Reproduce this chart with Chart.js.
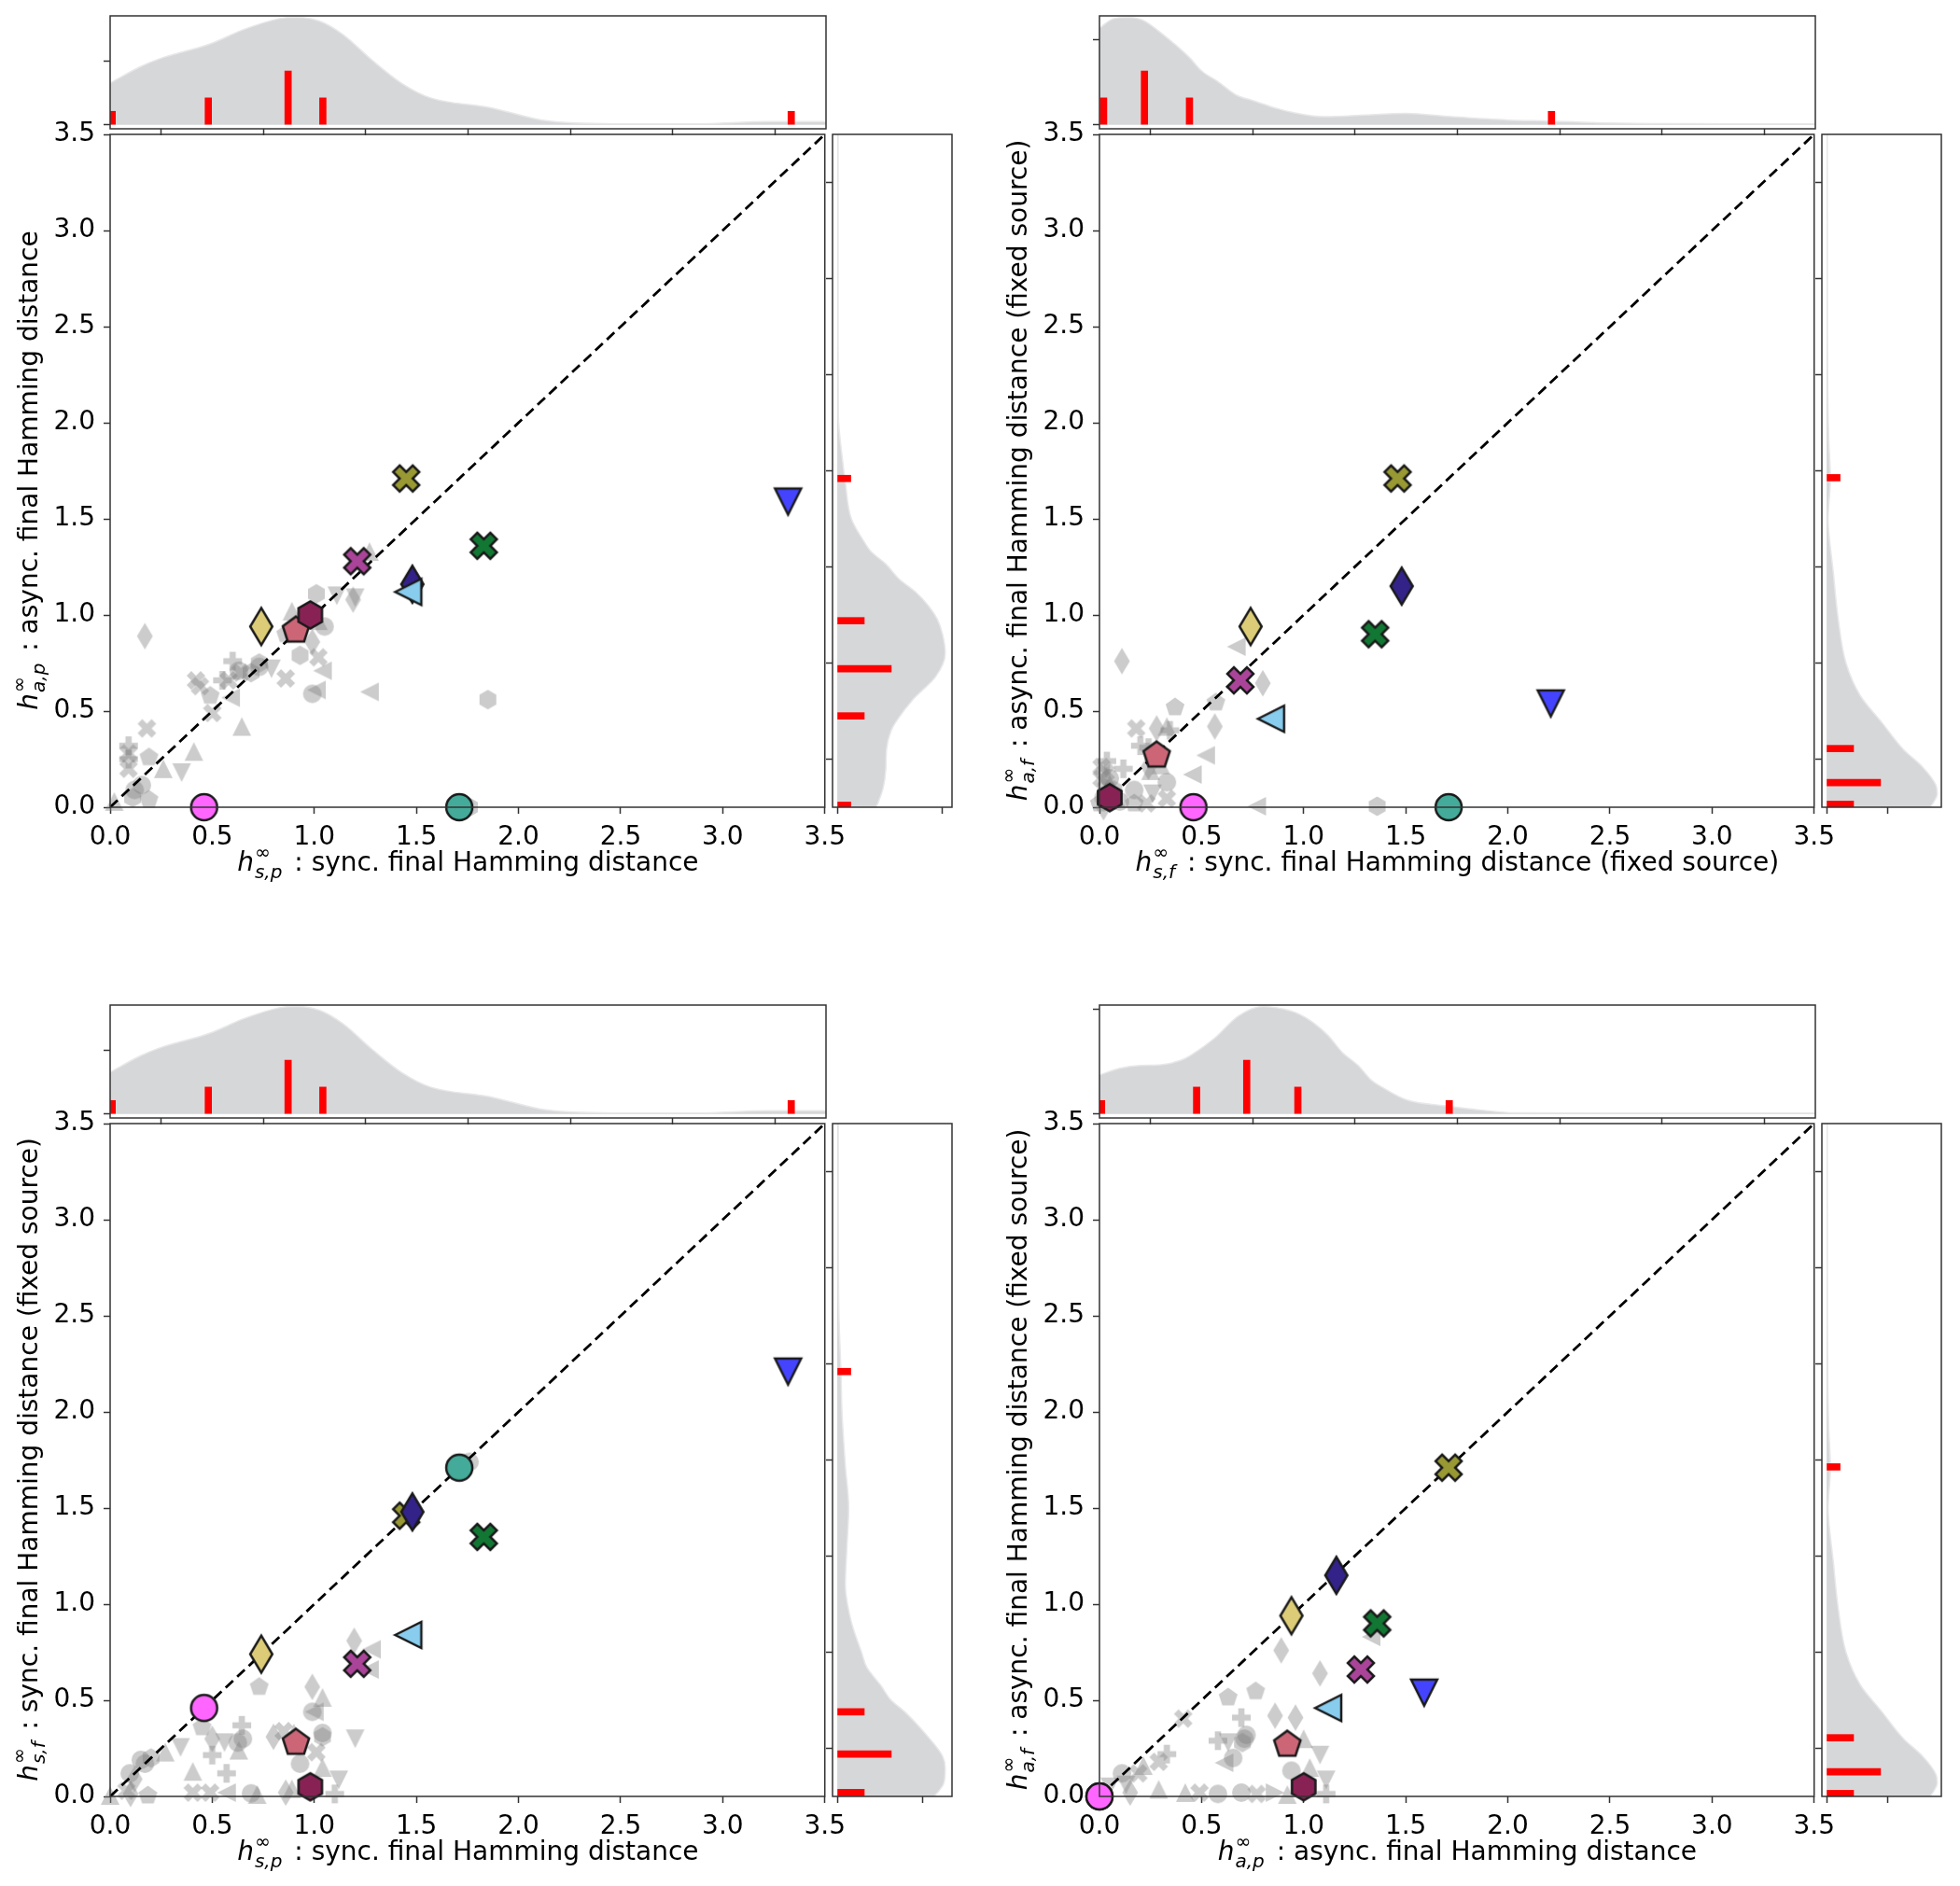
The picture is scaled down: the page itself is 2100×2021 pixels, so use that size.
<!DOCTYPE html>
<html>
<head>
<meta charset="utf-8">
<script src="https://cdn.jsdelivr.net/npm/chart.js@4.4.1/dist/chart.umd.min.js"></script>
<style>
  body { margin: 0; background: #fff; }
  #fig { position: relative; width: 2100px; height: 2021px; background: #fff; }
</style>
</head>
<body>
<div id="fig"></div>
<script>
// highlighted networks (drawing order), marker + colour
const hiMarkers = ['o', 'X', 'X', 'v', 'd', 'p', 'h', 'X', 'd', '<', 'o'];
const hiColors = ['#44aa99', '#999933', '#117733', '#4444ff', '#ddcc77', '#cc6677', '#882255', '#aa4499', '#332288', '#88ccee', '#ff66ff'];
const hSP = [1.71, 1.45, 1.83, 3.32, 0.74, 0.91, 0.98, 1.21, 1.48, 1.46, 0.46];
const hAP = [0.0, 1.71, 1.36, 1.59, 0.94, 0.92, 1.0, 1.28, 1.16, 1.12, 0.0];
const hSF = [1.71, 1.46, 1.35, 2.21, 0.74, 0.28, 0.05, 0.69, 1.48, 0.84, 0.46];
const hAF = [0.0, 1.71, 0.90, 0.54, 0.94, 0.27, 0.05, 0.66, 1.15, 0.46, 0.0];

// grey background networks, per panel
const p1gx = [0.17,0.18,0.09,0.09,0.09,0.09,0.19,0.26,0.35,0.41,0.155,0.11,0.19,0.12,0.02,0.42,0.44,0.49,0.50,0.645,0.58,0.60,0.63,0.69,0.73,0.79,0.59,0.86,0.93,0.99,1.02,1.04,0.99,1.01,1.27,1.85,0.89,1.05,1.01,1.11,1.19,1.20,1.27,0.86,1.76,1.48,1.02,0.55,0.64,0.73];
const p1gy = [0.89,0.41,0.32,0.28,0.25,0.20,0.26,0.20,0.18,0.29,0.115,0.05,0.04,0.09,0.03,0.66,0.63,0.58,0.49,0.42,0.66,0.76,0.71,0.70,0.75,0.72,0.57,0.67,0.79,0.86,0.78,0.71,0.59,0.61,0.60,0.56,1.02,0.94,1.11,1.10,1.08,1.09,1.33,0.90,0.0,1.15,0.97,0.66,0.70,0.73];
const p1gm = 'd X P X P X p ^ v ^ o h p o ^ X X p X ^ X P o h h v < X h d X < o < < h ^ o h v d v ^ p h d ^ P X o'.split(' ');

const p2gx = [0.11,0.67,0.80,0.37,0.57,0.565,0.18,0.33,0.345,0.52,0.455,0.33,0.20,0.117,0.036,0.01,0.25,0.24,0.30,0.17,0.26,0.23,0.33,0.17,0.77,1.36,0.02,0.03,0.01,0.04,0.06,0.02,0.05,0.0,0.10,0.24,0.28,0.05,0.08,0.03,0.07];
const p2gy = [0.76,0.835,0.645,0.52,0.545,0.42,0.41,0.42,0.40,0.27,0.17,0.13,0.32,0.20,0.24,0.21,0.19,0.21,0.22,0.09,0.07,0.02,0.045,0.02,0.005,0.005,0.05,0.10,0.15,0.08,0.03,0.0,0.12,0.02,0.03,0.31,0.41,0.15,0.05,0.18,0.09];
const p2gm = 'd < d p p d X ^ P < < o P P P X ^ d ^ o v X X p < h o h X P v d ^ p o P d o ^ X h'.split(' ');

const p3gx = [1.195,1.28,1.27,0.73,0.99,1.04,0.99,1.0,0.45,0.645,0.80,0.85,0.90,1.04,1.04,1.20,0.625,0.56,0.63,0.50,0.345,0.27,1.01,0.93,1.04,0.405,0.57,1.12,0.17,0.096,0.12,0.405,0.49,0.57,0.69,0.72,0.86,0.89,1.10,0.185,0.10,0.08,0.0,0.15,0.20,1.76,0.65,0.50,1.44];
const p3gy = [0.81,0.765,0.66,0.57,0.57,0.515,0.44,0.44,0.36,0.37,0.31,0.34,0.33,0.33,0.31,0.30,0.28,0.28,0.24,0.215,0.255,0.23,0.23,0.17,0.15,0.13,0.12,0.086,0.17,0.12,0.09,0.02,0.02,0.02,0.016,0.01,0.02,0.04,0.013,0.005,0.013,0.03,0.005,0.19,0.20,1.74,0.30,0.30,1.46];
const p3gm = 'd < < p d ^ o < p P d X ^ o h v o v ^ P v ^ X o ^ ^ P v o o d X X < o ^ d ^ P p d X ^ o h o o d X'.split(' ');

const p4gx = [0.89,1.08,1.33,0.63,0.765,0.41,0.695,0.86,0.96,1.0,0.71,0.58,0.63,1.08,0.33,0.29,0.655,0.61,0.215,0.11,0.13,0.29,0.94,1.03,1.11,0.42,0.49,0.58,0.695,0.77,0.86,0.92,1.11,0.19,0.72,0.70,0.15,0.05,0.0];
const p4gy = [0.76,0.64,0.83,0.515,0.547,0.405,0.41,0.42,0.41,0.30,0.30,0.29,0.28,0.215,0.22,0.18,0.20,0.175,0.16,0.12,0.06,0.037,0.134,0.15,0.086,0.02,0.02,0.013,0.02,0.013,0.02,0.01,0.013,0.12,0.32,0.28,0.02,0.05,0.0];
const p4gm = 'd d < p p X P d d ^ o P v v P X o < ^ o v ^ o ^ v ^ X o o X > ^ P X o h d v p'.split(' ');

// marginal densities (KDE) and red count bars
const kdeSPx = [0, 0.145, 0.24, 0.486, 0.656, 0.827, 0.912, 1.026, 1.139, 1.281, 1.424, 1.566, 1.85, 2.13, 2.47, 2.87, 3.21, 3.5];
const kdeSPd = [3.1, 4.3, 4.9, 6.0, 7.1, 7.9, 8.0, 7.7, 6.7, 4.8, 3.1, 2.0, 1.3, 0.3, 0.07, 0.07, 0.24, 0.24];
const kdeAPx = [0, 0.1, 0.2, 0.3, 0.4, 0.45, 0.56, 0.68, 0.8, 0.9, 0.98, 1.044, 1.12, 1.186, 1.265, 1.33, 1.38, 1.5, 1.69, 1.8, 2.04, 2.5, 3.5];
const kdeAPd = [2.9, 3.4, 3.6, 3.65, 4.0, 4.4, 5.6, 7.3, 8.0, 7.8, 7.4, 6.8, 5.8, 4.6, 3.6, 2.5, 2.0, 1.05, 0.6, 0.4, 0.08, 0.06, 0.06];
const kdeSFx = [0, 0.07, 0.147, 0.21, 0.32, 0.44, 0.5, 0.58, 0.67, 0.75, 0.87, 0.95, 1.1, 1.3, 1.5, 1.72, 2.0, 2.2, 2.46, 2.8, 3.5];
const kdeSFd = [7.2, 7.9, 8.0, 7.8, 6.6, 5.0, 4.0, 3.2, 2.2, 1.8, 1.2, 0.9, 0.6, 0.72, 0.85, 0.6, 0.35, 0.28, 0.14, 0.08, 0.07];
const kdeAFx = [0, 0.07, 0.115, 0.21, 0.30, 0.44, 0.58, 0.75, 0.98, 1.22, 1.5, 1.71, 1.92, 2.5, 3.5];
const kdeAFd = [7.7, 8.2, 8.1, 7.1, 5.7, 4.1, 2.5, 1.44, 0.86, 0.5, 0.12, 0.28, 0.16, 0.06, 0.05];

const rugSP = [0.01, 0.48, 0.87, 1.04, 3.33], cntSP = [1, 2, 4, 2, 1];
const rugAP = [0.01, 0.475, 0.72, 0.97, 1.71], cntAP = [1, 2, 4, 2, 1];
const rugSF = [0.02, 0.22, 0.44, 2.21], cntSF = [2, 4, 2, 1];
const rugAF = [0.015, 0.128, 0.305, 1.714], cntAF = [2, 4, 2, 1];

const densTicks = { sp: 4.7, ap: 7.8, sf: 6.3, af: 4.5 };
const axisRange = [0, 3.5];
const tickVals = [0, 0.5, 1.0, 1.5, 2.0, 2.5, 3.0, 3.5];

const margs = {
  sp: { x: kdeSPx, d: kdeSPd, rug: rugSP, cnt: cntSP },
  ap: { x: kdeAPx, d: kdeAPd, rug: rugAP, cnt: cntAP },
  sf: { x: kdeSFx, d: kdeSFd, rug: rugSF, cnt: cntSF },
  af: { x: kdeAFx, d: kdeAFd, rug: rugAF, cnt: cntAF },
};

const FONT = 'DejaVu Sans';

// marker glyphs (matplotlib-like shapes)
function shapePath(ctx, m) {
  const poly = pts => pts.forEach(([x, y], i) => (i ? ctx.lineTo(x, y) : ctx.moveTo(x, y)));
  const ngon = (k, r) => Array.from({ length: k }, (_, i) => {
    const a = i * 2 * Math.PI / k;
    return [r * Math.sin(a), -r * Math.cos(a)];
  });
  switch (m) {
    case 'o': ctx.arc(0, 0, 0.5, 0, 2 * Math.PI); break;
    case '^': poly([[0, -0.5], [0.5, 0.5], [-0.5, 0.5]]); break;
    case 'v': poly([[0, 0.5], [0.5, -0.5], [-0.5, -0.5]]); break;
    case '<': poly([[-0.5, 0], [0.5, -0.5], [0.5, 0.5]]); break;
    case '>': poly([[0.5, 0], [-0.5, -0.5], [-0.5, 0.5]]); break;
    case 'd': poly([[0, -0.707], [0.424, 0], [0, 0.707], [-0.424, 0]]); break;
    case 'p': poly(ngon(5, 0.53)); break;
    case 'h': poly(ngon(6, 0.52)); break;
    case 'P': poly([[-1,-3],[1,-3],[1,-1],[3,-1],[3,1],[1,1],[1,3],[-1,3],[-1,1],[-3,1],[-3,-1],[-1,-1]].map(([x, y]) => [x / 6, y / 6])); break;
    case 'X': poly([[-1,-2],[0,-1],[1,-2],[2,-1],[1,0],[2,1],[1,2],[0,1],[-1,2],[-2,1],[-1,0],[-2,-1]].map(([x, y]) => [x / 4, y / 4])); break;
  }
  ctx.closePath();
}

const markerCache = {};
function marker(m, color) {
  const key = m + color;
  if (markerCache[key]) return markerCache[key];
  const grey = color === 'grey';
  const S = grey ? 20 : 28;
  const lw = grey ? 0 : 2.5;
  const n = 2 * Math.ceil((S * 1.5 + lw * 2 + 4) / 2);
  const c = document.createElement('canvas');
  c.width = c.height = n;
  const ctx = c.getContext('2d');
  ctx.translate(n / 2, n / 2);
  ctx.scale(S, S);
  ctx.beginPath();
  shapePath(ctx, m);
  ctx.fillStyle = grey ? 'rgba(128,128,128,0.4)' : color;
  ctx.fill();
  if (lw) {
    ctx.lineWidth = lw / S;
    ctx.strokeStyle = '#1a1a1a';
    ctx.stroke();
  }
  markerCache[key] = c;
  return c;
}

// axis titles with h^inf_{..}
function drawMath(ctx, t, cx, cy, rot) {
  ctx.save();
  ctx.translate(cx, cy);
  ctx.rotate(rot);
  ctx.fillStyle = '#000';
  ctx.textBaseline = 'alphabetic';
  ctx.textAlign = 'left';
  ctx.font = `italic 28px "${FONT}"`;
  const wh = ctx.measureText('h').width;
  ctx.font = `20px "${FONT}"`;
  const wsup = ctx.measureText('∞').width;
  ctx.font = `italic 20px "${FONT}"`;
  const wsub = ctx.measureText(t.sub).width;
  const ws = Math.max(wsup, wsub) + 4;
  ctx.font = `28px "${FONT}"`;
  const wt = ctx.measureText(t.text).width;
  let x = -(wh + ws + wt) / 2;
  ctx.font = `italic 28px "${FONT}"`;
  ctx.fillText('h', x, 0);
  x += wh + 1;
  ctx.font = `20px "${FONT}"`;
  ctx.fillText('∞', x, -13);
  ctx.font = `italic 20px "${FONT}"`;
  ctx.fillText(t.sub, x, 8);
  x += ws;
  ctx.font = `28px "${FONT}"`;
  ctx.fillText(t.text, x, 0);
  ctx.restore();
}

const mathTitle = {
  id: 'mathTitle',
  afterDraw(chart, args, opts) {
    if (!opts.x) return;
    const a = chart.chartArea;
    drawMath(chart.ctx, opts.x, (a.left + a.right) / 2, a.bottom + 68, 0);
    drawMath(chart.ctx, opts.y, 40, (a.top + a.bottom) / 2, -Math.PI / 2);
  }
};

const frame = {
  id: 'frame',
  afterDraw(chart) {
    const a = chart.chartArea, ctx = chart.ctx;
    ctx.save();
    ctx.strokeStyle = '#333';
    ctx.lineWidth = 1.5;
    ctx.strokeRect(a.left, a.top, a.right - a.left, a.bottom - a.top);
    ctx.restore();
  }
};
Chart.register(mathTitle, frame);

function axis(min, max, o) {
  return {
    type: 'linear', min, max, offset: false, position: o.pos,
    afterFit(s) { if (o.pos === 'left') s.width = o.size; else s.height = o.size; },
    afterBuildTicks(s) { s.ticks = o.ticks.map(v => ({ value: v })); },
    grid: { display: true, drawOnChartArea: false, drawTicks: true, tickLength: 7, tickWidth: 1.5, tickColor: '#333' },
    border: { display: false },
    ticks: {
      display: !!o.labels, autoSkip: false, maxRotation: 0, padding: 9, color: '#000',
      font: { family: FONT, size: 28 }, callback: v => v.toFixed(1)
    }
  };
}

function mkCanvas(left, top, w, h) {
  const c = document.createElement('canvas');
  c.width = w;
  c.height = h;
  c.style.cssText = `position:absolute;left:${left}px;top:${top}px;width:${w}px;height:${h}px`;
  document.getElementById('fig').appendChild(c);
  return c;
}

const base = {
  responsive: false, animation: false, devicePixelRatio: 1, events: [],
};

function mainChart(p) {
  const c = mkCanvas(p.cx, p.ry + 100, 915, 870);
  new Chart(c, {
    type: 'scatter',
    data: {
      datasets: [
        { data: p.gx.map((x, i) => ({ x, y: p.gy[i] })), pointStyle: p.gm.map(m => marker(m, 'grey')),
          pointRadius: 10, order: 3, clip: false },
        { type: 'line', data: [{ x: axisRange[0], y: axisRange[0] }, { x: axisRange[1], y: axisRange[1] }],
          borderColor: '#000', borderWidth: 2.8, borderDash: [11, 6], pointRadius: 0, fill: false, order: 2 },
        { data: p.xs.map((x, i) => ({ x, y: p.ys[i] })), pointStyle: hiMarkers.map((m, i) => marker(m, hiColors[i])),
          pointRadius: 14, order: 1, clip: false },
      ]
    },
    options: {
      ...base,
      layout: { padding: { left: 0, right: 30, top: 44, bottom: 0 } },
      plugins: { legend: { display: false }, tooltip: { enabled: false }, mathTitle: { x: p.xt, y: p.yt } },
      scales: {
        x: axis(axisRange[0], axisRange[1], { pos: 'bottom', size: 105, ticks: tickVals, labels: true }),
        y: axis(axisRange[0], axisRange[1], { pos: 'left', size: 118, ticks: tickVals, labels: true }),
      }
    }
  });
}

function topChart(p) {
  const v = margs[p.top];
  const c = mkCanvas(p.cx + 60, p.ry, 860, 150);
  new Chart(c, {
    type: 'line',
    data: {
      datasets: [
        { data: v.x.map((x, i) => ({ x, y: v.d[i] })), fill: 'origin', backgroundColor: '#d6d7d9',
          borderColor: '#e8e8ea', borderWidth: 1.5, pointRadius: 0, cubicInterpolationMode: 'monotone', order: 2 },
        { type: 'bar', data: v.rug.map((x, i) => ({ x, y: v.cnt[i] })), backgroundColor: '#ff0000',
          barThickness: 7, grouped: false, order: 1 },
      ]
    },
    options: {
      ...base,
      layout: { padding: { left: 0, right: 35, top: 17, bottom: 0 } },
      plugins: { legend: { display: false }, tooltip: { enabled: false } },
      scales: {
        x: axis(axisRange[0], axisRange[1], { pos: 'bottom', size: 12, ticks: tickVals }),
        y: axis(-0.3, 8.1, { pos: 'left', size: 58, ticks: [0, densTicks[p.top]] }),
      }
    }
  });
}

function rightChart(p) {
  const v = margs[p.right];
  const c = mkCanvas(p.cx + 870, p.ry + 120, 170, 780);
  new Chart(c, {
    type: 'line',
    data: {
      datasets: [
        { data: v.x.map((y, i) => ({ x: v.d[i], y })), fill: 'origin', backgroundColor: '#d6d7d9',
          borderColor: '#e8e8ea', borderWidth: 1.5, pointRadius: 0, cubicInterpolationMode: 'monotone', order: 2 },
        { type: 'bar', indexAxis: 'y', data: v.rug.map((y, i) => ({ x: v.cnt[i], y })), backgroundColor: '#ff0000',
          barThickness: 7, grouped: false, order: 1 },
      ]
    },
    options: {
      ...base,
      indexAxis: 'y',
      layout: { padding: { left: 0, right: 20, top: 24, bottom: 0 } },
      plugins: { legend: { display: false }, tooltip: { enabled: false } },
      scales: {
        x: axis(-0.35, 8.5, { pos: 'bottom', size: 35, ticks: [0, densTicks[p.right]] }),
        y: axis(axisRange[0], axisRange[1], { pos: 'left', size: 22, ticks: tickVals }),
      }
    }
  });
}

const T = {
  sp: { sub: 's,p', text: ' : sync. final Hamming distance' },
  ap: { sub: 'a,p', text: ' : async. final Hamming distance' },
  sf: { sub: 's,f', text: ' : sync. final Hamming distance (fixed source)' },
  af: { sub: 'a,f', text: ' : async. final Hamming distance (fixed source)' },
};

const panels = [
  { cx: 0, ry: 0, xs: hSP, ys: hAP, gx: p1gx, gy: p1gy, gm: p1gm, top: 'sp', right: 'ap' },
  { cx: 1060, ry: 0, xs: hSF, ys: hAF, gx: p2gx, gy: p2gy, gm: p2gm, top: 'sf', right: 'af' },
  { cx: 0, ry: 1060, xs: hSP, ys: hSF, gx: p3gx, gy: p3gy, gm: p3gm, top: 'sp', right: 'sf' },
  { cx: 1060, ry: 1060, xs: hAP, ys: hAF, gx: p4gx, gy: p4gy, gm: p4gm, top: 'ap', right: 'af' },
];

panels.forEach(p => {
  p.xt = T[p.top];
  p.yt = T[p.right];
  topChart(p);
  rightChart(p);
  mainChart(p);
});
</script>
</body>
</html>
